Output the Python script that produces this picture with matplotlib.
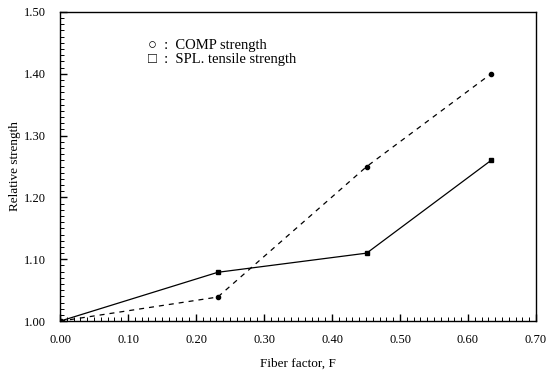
import matplotlib
matplotlib.use("Agg")
import matplotlib.pyplot as plt
from matplotlib.ticker import MultipleLocator, FormatStrFormatter

plt.rcParams["font.family"] = ["Liberation Serif", "DejaVu Serif"]

# data
fiber = [0.0, 0.232, 0.451, 0.634]
comp_strength = [1.00, 1.039, 1.25, 1.40]   # dashed
spl_tensile = [1.00, 1.079, 1.11, 1.26]      # solid

fig = plt.figure(figsize=(5.56, 3.73), dpi=100)
ax = fig.add_axes([0.108, 0.139, 0.856, 0.829])

ax.plot(fiber, comp_strength, color="black", linestyle=(0, (4, 4)), linewidth=0.9,
        marker="o", markersize=3, markerfacecolor="black")
ax.plot(fiber, spl_tensile, color="black", linestyle="-", linewidth=0.9,
        marker="s", markersize=3, markerfacecolor="black")

ax.set_xlim(0, 0.70)
ax.set_ylim(1.00, 1.50)
ax.xaxis.set_major_locator(MultipleLocator(0.10))
ax.xaxis.set_minor_locator(MultipleLocator(0.01))
ax.yaxis.set_major_locator(MultipleLocator(0.10))
ax.yaxis.set_minor_locator(MultipleLocator(0.01))
ax.xaxis.set_major_formatter(FormatStrFormatter("%.2f"))
ax.yaxis.set_major_formatter(FormatStrFormatter("%.2f"))
ax.tick_params(which="both", direction="in", labelsize=9)
ax.tick_params(which="major", length=5, width=1.0)
ax.tick_params(axis="x", which="major", pad=9)
ax.tick_params(axis="y", which="major", pad=10)
ax.tick_params(which="minor", length=3, width=0.7)
for s in ax.spines.values():
    s.set_linewidth(1.0)

ax.set_xlabel("Fiber factor, F", fontsize=9.5, labelpad=9)
ax.set_ylabel("Relative strength", fontsize=9.5, labelpad=2)

# legend drawn as plain text, as in the original
ax.text(0.185, 0.893, "\u25cb  :  COMP strength", transform=ax.transAxes, fontsize=10.5,
        family=["Liberation Serif", "DejaVu Sans"], va="center")
ax.text(0.185, 0.845, "\u25a1  :  SPL. tensile strength", transform=ax.transAxes, fontsize=10.5,
        family=["Liberation Serif", "DejaVu Sans"], va="center")

fig.savefig("out.png", dpi=100)
